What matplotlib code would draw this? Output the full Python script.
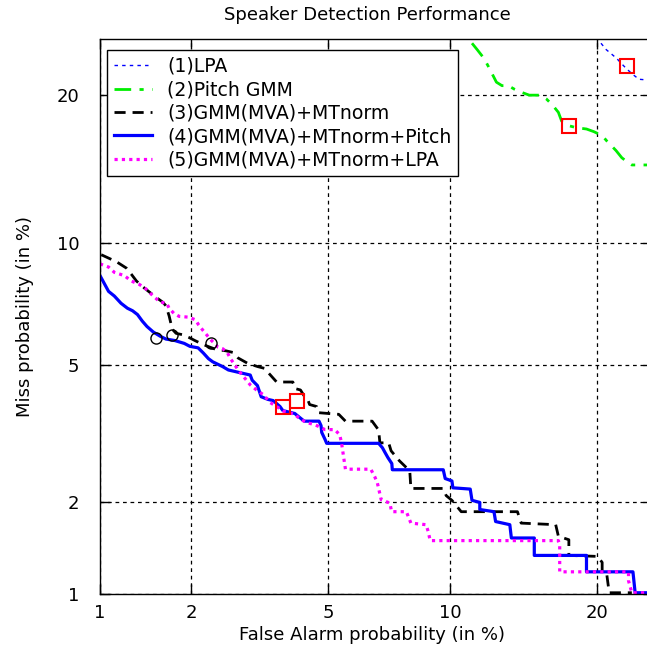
import math
import numpy as np
import matplotlib
matplotlib.use("Agg")
import matplotlib.pyplot as plt

# ---------------- data (percent) ----------------
lpa_fa = [20.3, 20.75, 21.2, 21.65, 22.05, 22.6, 23.05, 23.65, 24.3]
lpa_miss = [24.6, 24.0, 23.6, 23.2, 22.75, 22.2, 21.8, 21.35, 21.3]

pitch_fa = [11.2, 11.5, 11.9, 12.15, 12.45, 12.65, 13.0, 13.4, 13.8, 14.25, 14.8, 15.6,
            16.0, 16.45, 16.9, 17.15, 17.7, 18.3, 19.1, 19.7, 20.4, 20.8, 21.2, 21.6,
            22.1, 22.6, 23.0, 24.4]
pitch_miss = [24.6, 24.0, 23.2, 22.5, 21.65, 21.1, 20.8, 20.8, 20.5, 20.25, 20.0, 20.0,
              19.7, 19.2, 18.6, 17.9, 17.55, 17.4, 17.3, 17.1, 16.8, 16.4, 16.05, 15.7,
              15.2, 14.9, 14.7, 14.7]

mt_fa = [1.01, 1.14, 1.23, 1.28, 1.33, 1.41, 1.49, 1.56, 1.62, 1.66, 1.70, 1.74, 1.79,
         1.88, 1.97, 2.05, 2.17, 2.25, 2.38, 2.56, 2.68, 2.78, 2.97, 3.18, 3.32, 3.6,
         4.0, 4.05, 4.2, 4.3, 4.4, 4.45, 4.65, 4.7, 5.33, 5.55, 6.5, 6.75, 6.8, 7.15,
         7.25, 7.6, 8.05, 8.1, 9.65, 9.8, 10.1, 10.6, 14.0, 14.25, 16.7, 16.9, 17.7,
         17.7, 20.0, 20.4, 20.4, 20.8, 21.0, 23.0]
mt_miss = [9.4, 9.05, 8.75, 8.45, 8.15, 7.85, 7.6, 7.4, 7.25, 7.1, 6.7, 6.2, 6.05,
           6.0, 5.9, 5.8, 5.67, 5.6, 5.5, 5.45, 5.4, 5.22, 5.05, 4.95, 4.9, 4.5,
           4.5, 4.32, 4.28, 4.12, 4.02, 3.9, 3.85, 3.7, 3.66, 3.5, 3.5, 3.3, 3.03, 3.03,
           2.87, 2.68, 2.5, 2.21, 2.21, 2.1, 2.03, 1.87, 1.87, 1.72, 1.70, 1.56, 1.52,
           1.35, 1.34, 1.28, 1.19, 1.16, 1.01, 1.01]

pitchfus_fa = [1.0, 1.07, 1.12, 1.18, 1.24, 1.29, 1.34, 1.39, 1.44, 1.51, 1.59, 1.66,
               1.77, 1.9, 1.98, 2.1, 2.18, 2.26, 2.33, 2.5, 2.6, 3.02, 3.06, 3.17, 3.25,
               3.4, 3.52, 3.68, 3.75, 4.05, 4.2, 4.3, 4.72, 4.78, 4.8, 4.9, 4.95, 6.75,
               6.9, 7.0, 7.12, 7.28, 7.3, 9.65, 9.75, 10.1, 10.15, 11.1, 11.2, 11.65,
               11.65, 12.5, 12.6, 13.5, 13.6, 15.15, 15.15, 19.1, 19.1, 23.1, 23.3, 24.5]
pitchfus_miss = [8.4, 7.7, 7.5, 7.2, 7.0, 6.9, 6.75, 6.5, 6.3, 6.1, 5.95, 5.85,
                 5.8, 5.7, 5.6, 5.55, 5.38, 5.2, 5.1, 4.95, 4.85, 4.7, 4.55, 4.4, 4.1,
                 4.03, 4.0, 3.85, 3.75, 3.68, 3.57, 3.5, 3.5, 3.4, 3.25, 3.1, 3.02, 3.02,
                 2.93, 2.84, 2.74, 2.63, 2.52, 2.52, 2.37, 2.33, 2.22, 2.2, 2.03, 2.0,
                 1.9, 1.87, 1.74, 1.7, 1.54, 1.54, 1.35, 1.35, 1.19, 1.19, 1.01, 1.01]

lpafus_fa = [1.0, 1.07, 1.12, 1.21, 1.28, 1.36, 1.43, 1.51, 1.59, 1.67, 1.70, 1.76, 1.83,
             1.96, 2.06, 2.11, 2.17, 2.25, 2.31, 2.42, 2.5, 2.58, 2.63, 2.72, 2.78,
             3.02, 3.15, 3.3, 3.45, 3.6, 3.76, 4.05, 4.2, 4.4, 4.6, 4.9, 5.2, 5.36,
             5.42, 5.55, 6.45, 6.6, 6.7, 6.85, 7.2, 7.27, 7.9, 8.1, 8.8, 8.9, 9.0,
             16.9, 17.0, 17.0, 22.7, 22.7, 23.0, 24.5]
lpafus_miss = [8.95, 8.8, 8.55, 8.4, 8.15, 8.0, 7.8, 7.5, 7.25, 7.2, 7.0, 6.8, 6.68,
               6.65, 6.55, 6.35, 6.17, 5.95, 5.8, 5.57, 5.52, 5.4, 5.22, 5.0, 4.85,
               4.42, 4.28, 4.15, 3.95, 3.85, 3.74, 3.66, 3.54, 3.46, 3.42, 3.31, 3.31, 3.2,
               3.03, 2.53, 2.53, 2.4, 2.3, 2.04, 1.99, 1.87, 1.87, 1.72, 1.70, 1.62, 1.51,
               1.51, 1.46, 1.19, 1.19, 1.11, 1.01, 1.01]

# operating points
square_fa = [22.6, 17.7, 4.1, 3.76]
square_miss = [22.5, 17.55, 4.0, 3.83]
circle_fa = [1.54, 1.74, 2.31]
circle_miss = [5.9, 6.0, 5.7]

tick_values = [1, 2, 5, 10, 20]
tick_labels = ["1", "2", "5", "10", "20"]

labels = ["(1)LPA", "(2)Pitch GMM", "(3)GMM(MVA)+MTnorm",
          "(4)GMM(MVA)+MTnorm+Pitch", "(5)GMM(MVA)+MTnorm+LPA"]

# ---------------- probit scale ----------------
_a = [-3.969683028665376e+01, 2.209460984245205e+02, -2.759285104469687e+02,
      1.383577518672690e+02, -3.066479806614716e+01, 2.506628277459239e+00]
_b = [-5.447609879822406e+01, 1.615858368580409e+02, -1.556989798598866e+02,
      6.680131188771972e+01, -1.328068155288572e+01]
_c = [-7.784894002430293e-03, -3.223964580411365e-01, -2.400758277161838e+00,
      -2.549671010115819e+00, 4.374664141464968e+00, 2.938163982698783e+00]
_d = [7.784695709041462e-03, 3.224671290700398e-01, 2.445134137142996e+00,
      3.754408661907416e+00]


def _ppf_scalar(p):
    p = min(max(p, 1e-12), 1 - 1e-12)
    plow = 0.02425
    if p < plow:
        q = math.sqrt(-2 * math.log(p))
        return ((((((_c[0]*q+_c[1])*q+_c[2])*q+_c[3])*q+_c[4])*q+_c[5]) /
                ((((_d[0]*q+_d[1])*q+_d[2])*q+_d[3])*q+1))
    if p > 1 - plow:
        q = math.sqrt(-2 * math.log(1 - p))
        return -((((((_c[0]*q+_c[1])*q+_c[2])*q+_c[3])*q+_c[4])*q+_c[5]) /
                 ((((_d[0]*q+_d[1])*q+_d[2])*q+_d[3])*q+1))
    q = p - 0.5
    r = q * q
    return ((((((_a[0]*r+_a[1])*r+_a[2])*r+_a[3])*r+_a[4])*r+_a[5])*q /
            (((((_b[0]*r+_b[1])*r+_b[2])*r+_b[3])*r+_b[4])*r+1))


_ppf_vec = np.vectorize(_ppf_scalar, otypes=[float])
_erf_vec = np.vectorize(math.erf, otypes=[float])


def probit_forward(v):
    v = np.asarray(v, dtype=float)
    return _ppf_vec(v / 100.0)


def probit_inverse(z):
    z = np.asarray(z, dtype=float)
    return 50.0 * (1.0 + _erf_vec(z / math.sqrt(2.0)))


# ---------------- figure ----------------
plt.rcParams['font.family'] = ['DejaVu Sans']
FS = 13
fig = plt.figure(figsize=(6.47, 6.52), dpi=100)
ax = fig.add_axes([100 / 647, 58 / 652, 553.4 / 647, 555 / 652])
ax.set_xscale('function', functions=(probit_forward, probit_inverse))
ax.set_yscale('function', functions=(probit_forward, probit_inverse))

h1, = ax.plot(lpa_fa, lpa_miss, color='blue', lw=1.0, ls=(0, (2.5, 3)))
h2, = ax.plot(pitch_fa, pitch_miss, color='#00ee00', lw=2.0, ls=(0, (6, 3, 1.5, 3)))
h3, = ax.plot(mt_fa, mt_miss, color='black', lw=2.0, ls=(0, (4, 2.5)))
h4, = ax.plot(pitchfus_fa, pitchfus_miss, color='blue', lw=2.3, ls='-')
h5, = ax.plot(lpafus_fa, lpafus_miss, color='magenta', lw=2.3, ls=(0, (1, 1.3)))

ax.plot(square_fa, square_miss, ls='none', marker='s', ms=10, mfc='none',
        mec='red', mew=1.5)
ax.plot(circle_fa, circle_miss, ls='none', marker='o', ms=8, mfc='none',
        mec='black', mew=1.0)

ax.set_xlim(1, 25)
ax.set_ylim(1, 25)
ax.set_xticks(tick_values)
ax.set_xticklabels(tick_labels)
ax.set_yticks(tick_values)
ax.set_yticklabels(tick_labels)
ax.minorticks_off()
ax.tick_params(direction='in', top=True, right=True, length=7, width=1,
               labelsize=FS, colors='black')
ax.tick_params(axis='x', pad=7)
ax.tick_params(axis='y', pad=15)
ax.grid(True, color='black', ls=(0, (3, 3)), lw=0.9)
for s in ax.spines.values():
    s.set_linewidth(1.0)

fig.text(367 / 647, 1 - 15 / 652, 'Speaker Detection Performance', fontsize=FS,
         ha='center', va='center')
ax.set_xlabel('False Alarm probability (in %)', fontsize=FS, va='center')
ax.xaxis.set_label_coords(272 / 553.4, -41 / 555)
ax.set_ylabel('Miss probability (in %)', fontsize=FS, va='center')
ax.yaxis.set_label_coords(-75 / 553.4, 0.5)

leg = ax.legend([h1, h2, h3, h4, h5], labels, loc='upper left',
                bbox_to_anchor=(7 / 553.4, 1 - 11 / 555), borderaxespad=0,
                prop={'size': 13.6}, frameon=True, fancybox=False, framealpha=1,
                edgecolor='black', handlelength=2.0, handletextpad=0.8,
                labelspacing=0.23, borderpad=0.37)
leg.get_frame().set_linewidth(1.0)

fig.savefig('out.png', dpi=100)
